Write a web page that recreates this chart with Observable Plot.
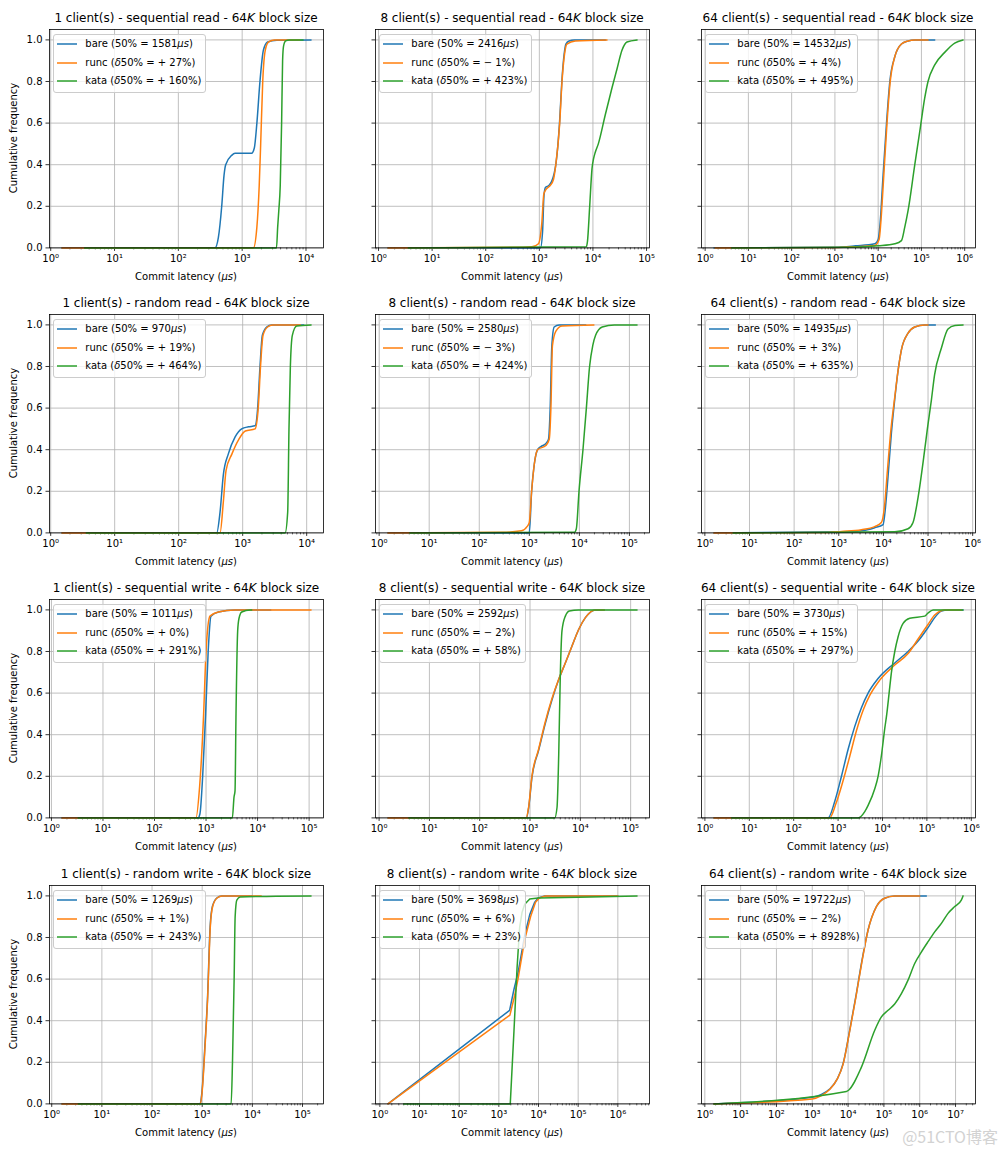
<!DOCTYPE html>
<html><head><meta charset="utf-8">
<script src="https://cdn.jsdelivr.net/npm/d3@7"></script>
<script src="https://cdn.jsdelivr.net/npm/@observablehq/plot@0.6"></script>
<style>
body{margin:0;background:#fff;}
#fig{position:relative;width:1008px;height:1152px;background:#fff;font-family:"DejaVu Sans",sans-serif;color:#000;overflow:hidden}
.title{position:absolute;text-align:center;font-size:12px;line-height:14px;white-space:nowrap}
.xlabel{position:absolute;text-align:center;font-size:10px;line-height:12px;white-space:nowrap}
.ylabel{position:absolute;text-align:center;font-size:10px;line-height:12px;white-space:nowrap;transform:rotate(-90deg)}
.legend{position:absolute;background:rgba(255,255,255,0.8);border:1px solid #cccccc;border-radius:3px;padding:2px 4px 3.5px 3px;font-size:10px;line-height:13.7px;white-space:nowrap}
.row{display:flex;align-items:center;height:13.7px}
.row+.row{margin-top:5px}
.sw{display:block;margin-right:8px;flex:none}
.plot{position:absolute}
#wm{position:absolute;right:10px;top:1124px;font-family:"Noto Sans CJK SC","Noto Sans",sans-serif;font-size:16px;color:#d2d2d2;white-space:nowrap}
</style></head><body><div id="fig"></div><script>
// ---- data: [latency (µs), cumulative frequency] ----
const sr1_bare=[[1.5,0],[375,0],[424,0.05],[478,0.2],[520,0.35],[552,0.4],[685,0.445],[773,0.455],[1409,0.455],[1550,0.48],[1700,0.6],[1900,0.8],[2150,0.95],[2500,0.99],[3500,0.998],[12000,1.0]];
const sr1_runc=[[1.5,0],[1500,0],[1700,0.1],[1850,0.3],[1950,0.5],[2100,0.8],[2300,0.95],[2600,0.99],[3200,1.0],[8000,1.0]];
const sr1_kata=[[3.4,0],[3450,0],[3600,0.1],[3750,0.18],[3950,0.3],[4150,0.6],[4300,0.9],[4450,0.97],[4800,0.995],[5500,1.0],[9000,1.0]];

const sr8_bare=[[1.5,0],[1050,0],[1150,0.08],[1220,0.25],[1300,0.29],[1500,0.3],[1700,0.32],[1900,0.36],[2030,0.4],[2380,0.6],[2630,0.8],[2900,0.93],[3130,0.98],[3600,0.995],[4500,1.0],[17000,1.0]];
const sr8_runc=[[1.5,0],[500,0.003],[726,0.005],[964,0.02],[1113,0.12],[1214,0.26],[1322,0.28],[1593,0.3],[1840,0.33],[2030,0.4],[2400,0.6],[2650,0.8],[2950,0.93],[3270,0.98],[4680,0.995],[18300,1.0]];
const sr8_kata=[[3.6,0],[7500,0.005],[7900,0.03],[8700,0.2],[9600,0.38],[10300,0.43],[11060,0.46],[12600,0.5],[17000,0.64],[22700,0.77],[28100,0.86],[34800,0.95],[43200,0.99],[66500,1.0]];

const sr64_bare=[[1.6,0],[1000,0.003],[3000,0.01],[8380,0.02],[10000,0.04],[10900,0.1],[13000,0.35],[15600,0.6],[18600,0.8],[24300,0.92],[34500,0.98],[49200,0.995],[70200,1.0],[203000,1.0]];
const sr64_runc=[[1.7,0],[1000,0.002],[3000,0.006],[8380,0.012],[10500,0.04],[11500,0.12],[13500,0.35],[16000,0.6],[19000,0.8],[24300,0.92],[34500,0.98],[49200,0.995],[70200,1.0],[142000,1.0]];
const sr64_kata=[[4.1,0],[2000,0.003],[10000,0.01],[24300,0.02],[34500,0.035],[41200,0.1],[49200,0.18],[70200,0.4],[91600,0.56],[119000,0.72],[142000,0.8],[203000,0.88],[345000,0.94],[588000,0.985],[916000,1.0]];

const rr1_bare=[[1.5,0],[393,0],[443,0.1],[499,0.28],[597,0.38],[759,0.46],[964,0.5],[1227,0.51],[1560,0.515],[1715,0.6],[1865,0.8],[2030,0.95],[2370,0.99],[2840,1.0],[9000,1.0]];
const rr1_runc=[[1.5,0],[443,0],[499,0.15],[550,0.3],[680,0.38],[870,0.45],[1100,0.49],[1560,0.5],[1750,0.6],[1900,0.8],[2080,0.95],[2450,0.99],[2950,1.0],[8000,1.0]];
const rr1_kata=[[3.6,0],[4600,0],[5050,0.1],[5290,0.5],[5560,0.8],[5970,0.95],[6980,0.995],[11700,1.0]];

const rr8_bare=[[1.5,0],[1000,0],[1112,0.2],[1257,0.33],[1464,0.4],[1706,0.415],[2145,0.43],[2420,0.45],[2613,0.6],[2820,0.9],[3140,0.99],[3945,1.0],[13400,1.0]];
const rr8_runc=[[1.5,0],[300,0.003],[700,0.01],[900,0.03],[1000,0.05],[1112,0.2],[1257,0.33],[1464,0.4],[2145,0.42],[2500,0.45],[2700,0.6],[2900,0.9],[3400,0.97],[4500,0.995],[19500,1.0]];
const rr8_kata=[[4.1,0],[8000,0.003],[8700,0.02],[9840,0.2],[11800,0.4],[13800,0.6],[16000,0.8],[18500,0.9],[21100,0.95],[28600,0.99],[50000,1.0],[142000,1.0]];

const rr64_bare=[[1.6,0],[1150,0.005],[3215,0.01],[6390,0.025],[9840,0.04],[11100,0.12],[12700,0.27],[15100,0.48],[17900,0.64],[21300,0.78],[25300,0.88],[35700,0.96],[50200,0.99],[84200,1.0],[146000,1.0]];
const rr64_runc=[[1.6,0],[500,0.002],[1150,0.007],[3215,0.015],[6390,0.03],[9000,0.05],[10500,0.12],[12300,0.3],[14800,0.5],[17900,0.65],[21300,0.78],[25300,0.88],[35700,0.96],[50200,0.99],[84200,1.0],[100000,1.0]];
const rr64_kata=[[4.3,0],[17900,0.005],[35700,0.02],[46100,0.05],[59700,0.17],[84200,0.4],[96600,0.5],[119000,0.64],[140000,0.76],[200000,0.89],[280000,0.98],[400000,0.997],[608000,1.0]];

const sw1_bare=[[1.6,0],[700,0],[762,0.02],[860,0.2],[982,0.5],[1100,0.8],[1247,0.97],[1730,0.99],[3650,1.0],[18000,1.0]];
const sw1_runc=[[1.6,0],[637,0],[750,0.15],[898,0.5],[1000,0.8],[1192,0.97],[1730,0.99],[3650,1.0],[109000,1.0]];
const sw1_kata=[[3.3,0],[3240,0],[3490,0.1],[3650,0.13],[3815,0.5],[4110,0.9],[4365,0.96],[4920,0.99],[7140,1.0],[7700,1.0]];

const sw8_bare=[[1.5,0],[846,0],[941,0.05],[1096,0.197],[1487,0.326],[2017,0.455],[2735,0.568],[3715,0.665],[5035,0.745],[6830,0.826],[9260,0.906],[12600,0.963],[19900,1.0],[30000,1.0]];
const sw8_runc=[[1.5,0],[840,0],[935,0.05],[1090,0.2],[1480,0.33],[2000,0.46],[2700,0.57],[3700,0.665],[5035,0.745],[6830,0.826],[9260,0.906],[12600,0.963],[19900,1.0],[30000,1.0]];
const sw8_kata=[[3.9,0],[3090,0],[3440,0.05],[3715,0.3],[4010,0.7],[4320,0.9],[5035,0.97],[6040,0.995],[9260,1.0],[134000,1.0]];

const sw64_bare=[[1.6,0],[597,0],[843,0.08],[1191,0.2],[1683,0.33],[2377,0.44],[3358,0.53],[4744,0.6],[7960,0.67],[18900,0.745],[37700,0.8],[63300,0.85],[106000,0.915],[150000,0.963],[212000,0.995],[300000,1.0],[652000,1.0]];
const sw64_runc=[[1.6,0],[640,0],[900,0.07],[1300,0.18],[1850,0.3],[2600,0.42],[3700,0.52],[5200,0.59],[8500,0.66],[18900,0.735],[37700,0.79],[63300,0.86],[106000,0.93],[150000,0.975],[200000,0.995],[260000,1.0],[600000,1.0]];
const sw64_kata=[[4,0],[2820,0],[3990,0.03],[4744,0.06],[6700,0.14],[7960,0.2],[9460,0.3],[11250,0.43],[12500,0.5],[14100,0.6],[15900,0.7],[18900,0.8],[22400,0.87],[29100,0.935],[41100,0.96],[89400,0.97],[106000,0.985],[138000,1.0],[650000,1.0]];

const rw1_bare=[[1.6,0],[910,0],[982,0.05],[1145,0.3],[1273,0.5],[1439,0.85],[1602,0.95],[1955,0.99],[2460,1.0],[10000,1.0]];
const rw1_runc=[[1.6,0],[920,0],[990,0.05],[1155,0.3],[1280,0.5],[1450,0.85],[1620,0.95],[1980,0.99],[2500,1.0],[15000,1.0]];
const rw1_kata=[[3.4,0],[3776,0],[4018,0.2],[4335,0.6],[4540,0.9],[4900,0.98],[5710,0.995],[30000,0.998],[148000,1.0]];

const rw8_bare=[[1.6,0],[1867,0.45],[2400,0.55],[3040,0.63],[4490,0.81],[6010,0.91],[8040,0.97],[9770,0.99],[14400,1.0],[1000000,1.0]];
const rw8_runc=[[1.6,0],[1900,0.427],[2500,0.52],[3040,0.6],[4490,0.79],[6300,0.9],[8400,0.97],[10500,0.99],[15000,1.0],[1000000,1.0]];
const rw8_kata=[[4,0],[1940,0],[2405,0.35],[2870,0.65],[3350,0.85],[3840,0.92],[4490,0.96],[6010,0.985],[9770,0.99],[100000,0.993],[3050000,1.0]];

const rw64_bare=[[1.8,0],[1000,0.032],[1800,0.045],[3000,0.07],[5000,0.12],[7250,0.193],[11100,0.354],[16400,0.514],[23600,0.675],[36100,0.836],[61800,0.949],[105000,0.989],[200000,0.999],[400000,1.0],[1530000,1.0]];
const rw64_runc=[[1.8,0],[1000,0.024],[1800,0.04],[3000,0.068],[5000,0.12],[7250,0.19],[11100,0.35],[16400,0.51],[23600,0.67],[36100,0.835],[61800,0.948],[105000,0.989],[200000,0.999],[400000,1.0],[1000000,1.0]];
const rw64_kata=[[1.8,0],[8980,0.06],[23600,0.177],[55500,0.354],[85100,0.418],[131000,0.45],[200000,0.48],[308000,0.53],[472000,0.595],[724000,0.675],[1110000,0.73],[1710000,0.78],[2620000,0.827],[4030000,0.868],[6180000,0.916],[9480000,0.949],[14500000,0.98],[16200000,1.0]];

const clients=[1,8,64];
const workloads=["sequential read","random read","sequential write","random write"];
const bareMedians=[1581,2416,14532,970,2580,14935,1011,2592,3730,1269,3698,19722];
const runcDeltas=[27,-1,4,19,-3,3,0,-2,15,1,6,-2];
const kataDeltas=[160,423,495,464,424,635,291,58,297,243,23,8928];
const yTicks=[0,0.2,0.4,0.6,0.8,1.0];
const seriesNames=["bare","runc","kata"];
const seriesColors=["#1f77b4","#ff7f0e","#2ca02c"];
const panelData=[
  [sr1_bare,sr1_runc,sr1_kata],[sr8_bare,sr8_runc,sr8_kata],[sr64_bare,sr64_runc,sr64_kata],
  [rr1_bare,rr1_runc,rr1_kata],[rr8_bare,rr8_runc,rr8_kata],[rr64_bare,rr64_runc,rr64_kata],
  [sw1_bare,sw1_runc,sw1_kata],[sw8_bare,sw8_runc,sw8_kata],[sw64_bare,sw64_runc,sw64_kata],
  [rw1_bare,rw1_runc,rw1_kata],[rw8_bare,rw8_runc,rw8_kata],[rw64_bare,rw64_runc,rw64_kata]
];
const panelCurves=["monotone-x","monotone-x","monotone-x","monotone-x","monotone-x","monotone-x","monotone-x","monotone-x","monotone-x","monotone-x","linear","monotone-x"];

// ---- layout ----
const colLeft=[49,375,701], rowTop=[28.6,313.6,598.6,884.6];
const frameW=274, frameH=218.4;
const mL=45,mR=15,mT=10,mB=25;
const fig=document.getElementById("fig");
const supMap={"0":"⁰","1":"¹","2":"²","3":"³","4":"⁴","5":"⁵","6":"⁶","7":"⁷","8":"⁸","9":"⁹","-":"⁻"};
const sup=v=>"10"+String(Math.round(Math.log10(v))).split("").map(c=>supMap[c]).join("");
const fmtDelta=d=>(d<0?"− ":"+ ")+Math.abs(d);

function el(tag,cls,html,style){const e=document.createElement(tag);if(cls)e.className=cls;if(html!=null)e.innerHTML=html;Object.assign(e.style,style||{});fig.appendChild(e);return e;}

for(let r=0;r<4;r++){
  for(let c=0;c<3;c++){
    const i=r*3+c;
    const series=panelData[i];
    const all=series.flat();
    const lo=Math.log10(d3.min(all,d=>d[0])), hi=Math.log10(d3.max(all,d=>d[0]));
    const span=hi-lo;
    const dom=[Math.pow(10,lo-0.05*span),Math.pow(10,hi+0.05*span)];
    const majors=[],minors=[];
    for(let k=Math.floor(Math.log10(dom[0]))-1;k<=Math.ceil(Math.log10(dom[1]));k++){
      const p=Math.pow(10,k);
      if(p>=dom[0]&&p<=dom[1])majors.push(p);
      for(let m=2;m<=9;m++){const v=m*p;if(v>=dom[0]&&v<=dom[1])minors.push(v);}
    }
    const marks=[
      Plot.gridX(majors,{stroke:"#b0b0b0",strokeOpacity:1,strokeWidth:0.8}),
      Plot.gridY(yTicks,{stroke:"#b0b0b0",strokeOpacity:1,strokeWidth:0.8}),
      Plot.axisX(minors,{tickSize:2,strokeWidth:0.6,tickFormat:()=>"",label:null}),
      Plot.axisX(majors,{tickSize:3.5,tickPadding:3,strokeWidth:0.8,tickFormat:sup,label:null,fontSize:10}),
      Plot.axisY(yTicks,{tickSize:3.5,tickPadding:3.5,strokeWidth:0.8,tickFormat:c===0?(d=>d.toFixed(1)):(()=>""),label:null,fontSize:10}),
      ...series.map((s,j)=>Plot.line(s,{x:d=>d[0],y:d=>d[1],stroke:seriesColors[j],strokeWidth:1.5,curve:panelCurves[i]})),
      Plot.frame({stroke:"black",strokeWidth:0.8})
    ];
    const svg=Plot.plot({
      width:mL+frameW+mR,height:mT+frameH+mB,
      marginLeft:mL,marginRight:mR,marginTop:mT,marginBottom:mB,
      x:{type:"log",domain:dom},
      y:{domain:[0,1.05]},
      style:{fontFamily:"DejaVu Sans",fontSize:"10px",color:"black",background:"transparent",overflow:"visible"},
      marks
    });
    const fx=colLeft[c], fy=rowTop[r];
    const wrap=el("div","plot",null,{left:(fx-mL)+"px",top:(fy-mT)+"px"});
    wrap.appendChild(svg);
    el("div","title",`${clients[c]} client(s) - ${workloads[r]} - 64<i>K</i> block size`,{left:(fx-40)+"px",width:(frameW+80)+"px",top:(fy-17.3)+"px"});
    el("div","xlabel","Commit latency (<i>μs</i>)",{left:fx+"px",width:frameW+"px",top:(fy+frameH+24)+"px"});
    if(c===0){
      el("div","ylabel","Cumulative frequency",{left:(14.5-frameH/2)+"px",width:frameH+"px",top:(fy+frameH/2-6)+"px"});
    }
    const labels=[
      `bare (50% = ${bareMedians[i]}<i>μs</i>)`,
      `runc (<i>δ</i>50% = ${fmtDelta(runcDeltas[i])}%)`,
      `kata (<i>δ</i>50% = ${fmtDelta(kataDeltas[i])}%)`
    ];
    el("div","legend",labels.map((t,j)=>`<div class="row"><svg class="sw" width="20" height="6"><line x1="0" x2="20" y1="3" y2="3" stroke="${seriesColors[j]}" stroke-width="1.5"/></svg><span>${t}</span></div>`).join(""),{left:(fx+4.3)+"px",top:(fy+5.5)+"px"});
  }
}
el("div",null,"@51CTO博客",{}).id="wm";
</script></body></html>
